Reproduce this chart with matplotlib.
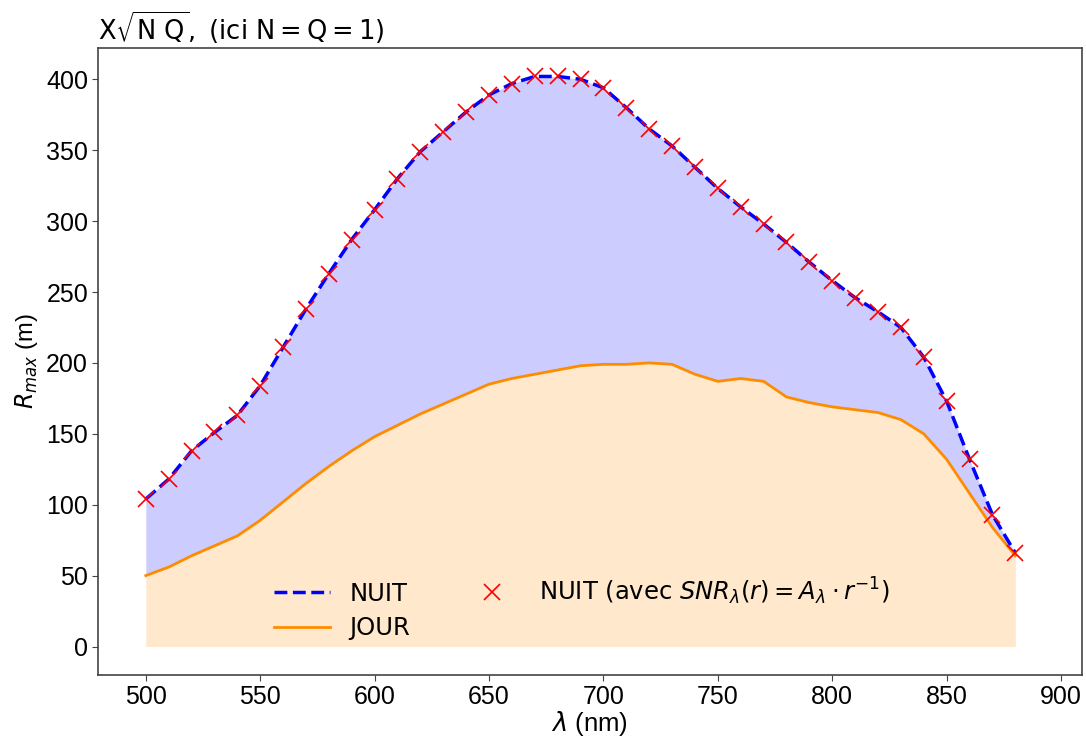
import numpy as np
import matplotlib
matplotlib.use("Agg")
import matplotlib.pyplot as plt

plt.rcParams['font.family'] = ['Liberation Sans', 'DejaVu Sans']
plt.rcParams['mathtext.fontset'] = 'dejavusans'

# Donnees
lam = [500, 510, 520, 530, 540, 550, 560, 570, 580, 590,
       600, 610, 620, 630, 640, 650, 660, 670, 680, 690,
       700, 710, 720, 730, 740, 750, 760, 770, 780, 790,
       800, 810, 820, 830, 840, 850, 860, 870, 880]

nuit = [104, 118, 138, 151, 163, 184, 211, 238, 263, 287,
        308, 330, 349, 363, 377, 389, 397, 402, 402, 400,
        394, 380, 365, 353, 338, 323, 310, 298, 285, 271,
        258, 246, 236, 225, 204, 173, 132, 93, 66]

jour = [50, 56, 64, 71, 78, 89, 102, 115, 127, 138,
        148, 156, 164, 171, 178, 185, 189, 192, 195, 198,
        199, 199, 200, 199, 192, 187, 189, 187, 176, 172,
        169, 167, 165, 160, 150, 132, 108, 84, 64]

lam = np.array(lam)
nuit = np.array(nuit)
jour = np.array(jour)

fig, ax = plt.subplots(figsize=(10.86, 7.4), dpi=100)

ax.fill_between(lam, jour, nuit, color='blue', alpha=0.2, linewidth=0)
ax.fill_between(lam, 0, jour, color='darkorange', alpha=0.2, linewidth=0)

ax.plot(lam, nuit, '--', color='blue', linewidth=2.5, label='NUIT')
ax.plot(lam, jour, '-', color='darkorange', linewidth=2, label='JOUR')
ax.plot(lam, nuit, 'x', color='red', markersize=12, markeredgewidth=1.2,
        label=r'NUIT (avec $SNR_{\lambda}(r) = A_{\lambda} \cdot r^{-1}$)')

ax.set_xlim(479, 909)
ax.set_ylim(-20, 422)
ax.set_xticks(np.arange(500, 901, 50))
ax.set_yticks(np.arange(0, 401, 50))

ax.set_xlabel(r'$\lambda$ (nm)', fontsize=18.5, labelpad=0)
ax.set_ylabel(r'$R_{max}$ (m)', fontsize=17, labelpad=4)
ax.set_title(r'$\mathrm{X\sqrt{N\ Q},\ (ici\ N = Q = 1)}$', loc='left', fontsize=18.5, pad=6)

for s in ax.spines.values():
    s.set_color('#444444')
    s.set_linewidth(1.2)
ax.tick_params(labelsize=18, direction='out', length=4, color='#444444', pad=3)

leg = ax.legend(loc='lower center', ncol=2, frameon=False,
                prop={'family': 'DejaVu Sans', 'size': 17.5},
                columnspacing=2.2, handlelength=2.3, labelspacing=0.45,
                bbox_to_anchor=(0.492, 0.02))

plt.subplots_adjust(left=0.09, right=0.996, top=0.935, bottom=0.088)
plt.savefig('out.png', dpi=100)
